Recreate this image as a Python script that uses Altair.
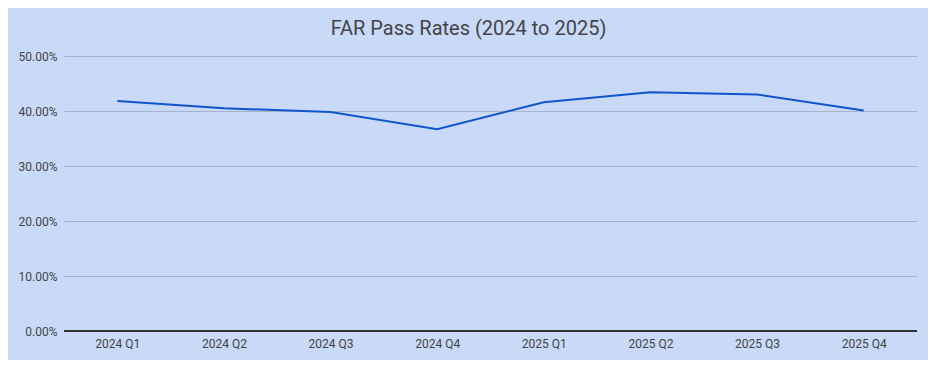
import altair as alt
import pandas as pd

quarters = ["2024 Q1", "2024 Q2", "2024 Q3", "2024 Q4",
            "2025 Q1", "2025 Q2", "2025 Q3", "2025 Q4"]
pass_rates = [0.418, 0.405, 0.398, 0.367, 0.416, 0.434, 0.430, 0.401]

df = pd.DataFrame({"quarter": quarters, "rate": pass_rates})

FONT = "Roboto"
BG = "#c9daf8"

line = alt.Chart(df).mark_line(color="#1155cc", strokeWidth=2).encode(
    x=alt.X("quarter:N", sort=quarters, title=None,
            scale=alt.Scale(paddingInner=0, paddingOuter=0),
            axis=alt.Axis(labelAngle=0, domain=False, ticks=False, grid=False,
                          labelPadding=7, labelFontSize=12, labelColor="#444444",
                          labelFont=FONT)),
    y=alt.Y("rate:Q", title=None,
            scale=alt.Scale(domain=[0, 0.5], nice=False),
            axis=alt.Axis(format=".2%", values=[0, 0.1, 0.2, 0.3, 0.4, 0.5],
                          domain=False, ticks=False, gridColor="#a7b3c8",
                          gridWidth=1, labelPadding=7, labelFontSize=12,
                          labelColor="#444444", labelFont=FONT)),
)

baseline = alt.Chart(pd.DataFrame({"y": [0]})).mark_rule(color="#000000", strokeWidth=1.5).encode(
    y="y:Q"
)

chart = alt.layer(line, baseline).properties(
    width=853,
    height=275,
    background=BG,
    padding={"left": 56, "top": 48, "right": 11, "bottom": 29},
    autosize=alt.AutoSizeParams(type="none"),
    title=alt.TitleParams("FAR Pass Rates (2024 to 2025)", font=FONT, fontSize=20,
                          fontWeight="normal", color="#444444", anchor="middle",
                          dx=-22, offset=11),
).configure_view(stroke=None, fill=BG)

chart.save("out.html", embed_options={"renderer": "svg", "actions": False})
